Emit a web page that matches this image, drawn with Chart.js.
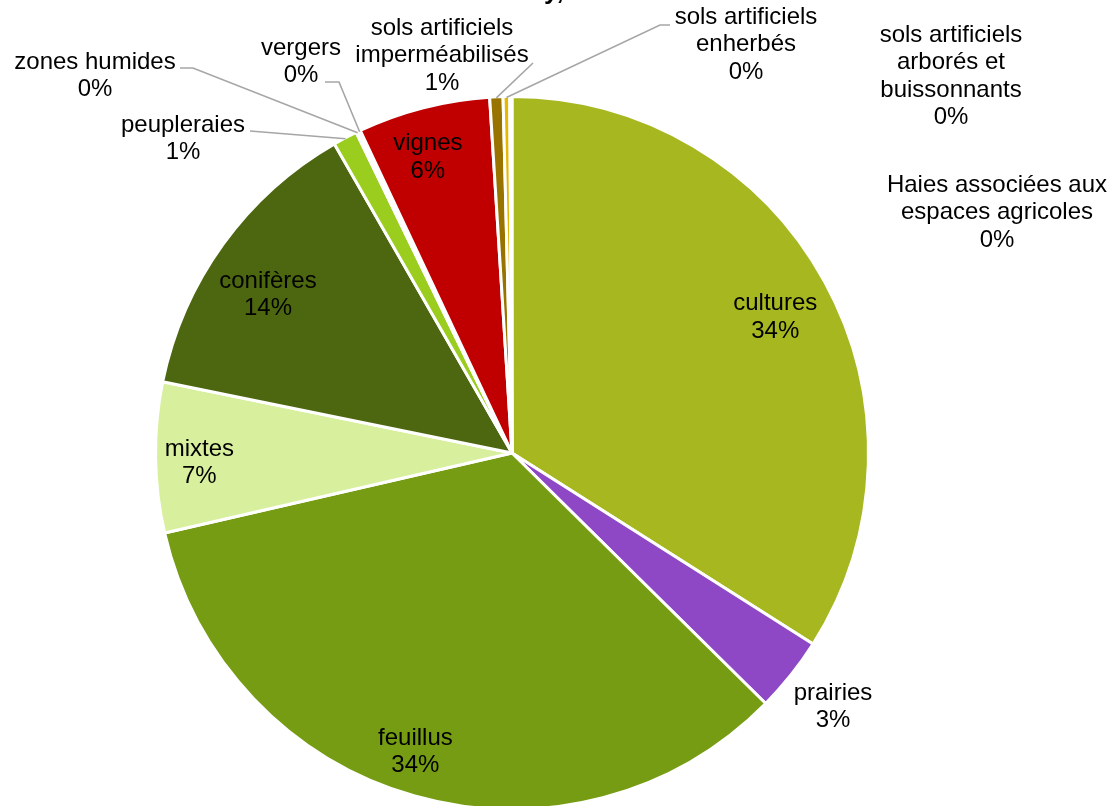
<!DOCTYPE html>
<html>
<head>
<meta charset="utf-8">
<script src="https://cdn.jsdelivr.net/npm/chart.js@4/dist/chart.umd.min.js"></script>
<style>
    html, body { margin: 0; padding: 0; background: #fff; overflow: hidden; }
    #wrap { position: relative; width: 1110px; height: 830px; }
</style>
</head>
<body>
<div id="wrap"><canvas id="landChart"></canvas></div>
<script>
// land cover shares, in percent, clockwise from 12 o'clock
const categories = [
    'cultures', 'prairies', 'feuillus', 'mixtes', 'conifères', 'peupleraies',
    'zones humides', 'vergers', 'vignes',
    'sols artificiels\nimperméabilisés',
    'sols artificiels\nenherbés',
    'sols artificiels\narborés et\nbuissonnants',
    'Haies associées aux\nespaces agricoles'
];
const shares = [34.0, 3.4, 34.0, 6.8, 13.5, 1.1, 0.1, 0.1, 6.0, 0.6, 0.3, 0.05, 0.05];
const colors = [
    '#A6B71F', '#8E48C6', '#759C12', '#D8F09E', '#4D6710', '#9ACD1E',
    '#4F81BD', '#F79646', '#C00000', '#997300', '#E6B800', '#7F7F7F', '#376092'
];

// where each label goes: inside the slice (fraction of radius, plus a nudge)
// or at a fixed spot, optionally with a leader line back to the slice
const labelSpots = [
    { r: 0.83, dx: 4, dy: 7 },
    { x: 833, y: 693 },
    { r: 0.88, dx: -11, dy: -3 },
    { r: 0.88, dx: 1, dy: 6 },
    { r: 0.82, dx: -7, dy: 13 },
    { x: 183, y: 125, line: [250, 131] },
    { x: 95, y: 62, line: [180, 68, 193, 68] },
    { x: 301, y: 48, line: [325, 82, 339, 82] },
    { r: 0.87, dx: -7, dy: 5 },
    { x: 442, y: 28, line: [533, 63] },
    { x: 746, y: 17, line: [670, 25, 660, 25] },
    { x: 951, y: 35 },
    { x: 997, y: 185 }
];

const LINE_H = 27.5;
const FONT = '24px "Liberation Sans", Arial, sans-serif';

const sliceLabels = {
    id: 'sliceLabels',
    afterDatasetsDraw(chart) {
        const ctx = chart.ctx;
        const arcs = chart.getDatasetMeta(0).data;
        ctx.save();
        ctx.font = FONT;
        ctx.textAlign = 'center';
        ctx.textBaseline = 'middle';

        arcs.forEach((arc, i) => {
            const spot = labelSpots[i];
            const lines = categories[i].split('\n').concat(Math.round(shares[i]) + '%');
            const mid = (arc.startAngle + arc.endAngle) / 2;

            if (spot.r) {
                const cx = arc.x + Math.cos(mid) * arc.outerRadius * spot.r + spot.dx;
                const cy = arc.y + Math.sin(mid) * arc.outerRadius * spot.r + spot.dy;
                const top = cy - (lines.length - 1) * LINE_H / 2;
                ctx.fillStyle = '#000';
                lines.forEach((t, k) => ctx.fillText(t, cx, top + k * LINE_H));
                return;
            }

            if (spot.line) {
                const ex = arc.x + Math.cos(mid) * (arc.outerRadius - 1);
                const ey = arc.y + Math.sin(mid) * (arc.outerRadius - 1);
                ctx.strokeStyle = '#A6A6A6';
                ctx.lineWidth = 1.6;
                ctx.beginPath();
                ctx.moveTo(spot.line[0], spot.line[1]);
                for (let k = 2; k < spot.line.length; k += 2) ctx.lineTo(spot.line[k], spot.line[k + 1]);
                ctx.lineTo(ex, ey);
                ctx.stroke();
            }

            ctx.fillStyle = '#000';
            lines.forEach((t, k) => ctx.fillText(t, spot.x, spot.y + k * LINE_H));
        });

        // tail of the title line, mostly above the frame
        ctx.font = 'bold 26px "Liberation Sans", Arial, sans-serif';
        ctx.textAlign = 'left';
        ctx.textBaseline = 'alphabetic';
        ctx.fillText('y,', 544, -1);
        ctx.restore();
    }
};

new Chart(document.getElementById('landChart'), {
    type: 'pie',
    data: {
        labels: categories,
        datasets: [{
            data: shares,
            backgroundColor: colors,
            borderColor: '#fff',
            borderWidth: 3
        }]
    },
    options: {
        responsive: true,
        maintainAspectRatio: false,
        animation: false,
        events: [],
        layout: { padding: { top: 95, bottom: 19, left: 154, right: 240 } },
        plugins: {
            legend: { display: false },
            tooltip: { enabled: false },
            title: { display: false }
        }
    },
    plugins: [sliceLabels]
});
</script>
</body>
</html>
